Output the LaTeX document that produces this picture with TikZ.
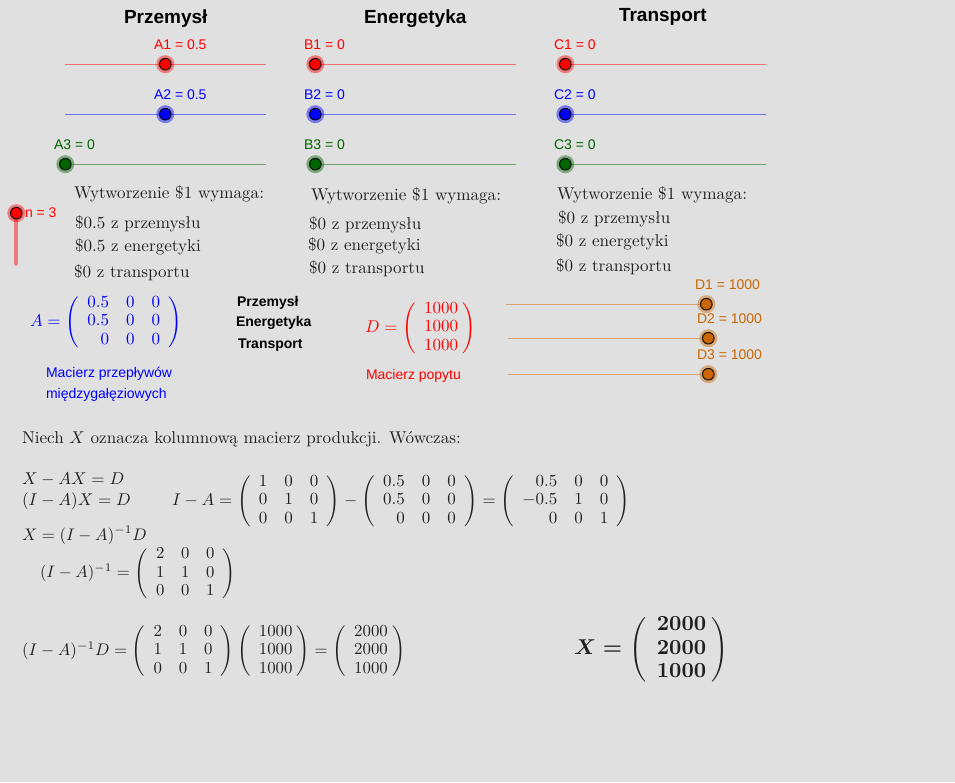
\documentclass[tikz,border=0pt]{standalone}
\usepackage[no-math]{fontspec}
\usepackage{amsmath}
\newfontfamily\lib{Liberation Sans}
\definecolor{bg}{HTML}{E0E0E0}
\definecolor{dgreen}{HTML}{006400}
\definecolor{orng}{HTML}{CC6600}
\definecolor{ink}{HTML}{202020}
\newcommand{\thumb}[2]{%
  \fill[#2,opacity=.45] #1 circle (9);
  \draw[black,fill=#2,line width=.9] #1 circle (5.8);}
\newcommand{\mstr}{.91}
\newcommand{\mat}[2]{\left(\renewcommand{\arraystretch}{\mstr}\begin{array}{#1}#2\end{array}\right)}
\newcommand{\cola}{r@{\hspace{2.5pt}}}
\tikzset{
  tx/.style={inner sep=0,outer sep=0,anchor=base west},
  ltx/.style={tx,scale=1.71,transform shape,text=ink},
  mtx/.style={inner sep=0,outer sep=0,anchor=west,scale=1.7,transform shape,text=ink},
  title/.style={tx,font=\lib\fontsize{19}{19}\selectfont\bfseries,text=black},
  small/.style={tx,font=\lib\fontsize{14}{14}\selectfont\bfseries,text=black},
  lab/.style={tx,font=\lib\fontsize{14}{14}\selectfont},
  rail/.style={line width=1},
}
\begin{document}
\begin{tikzpicture}[x=1pt,y=-1pt]
\useasboundingbox (0,0) rectangle (955,782);
\fill[bg] (0,0) rectangle (955,782);
% titles
\node[title] (t1) at (124,23) {Przemysł};
\node[title] (t2) at (364,23) {Energetyka};
\node[title] (t3) at (619,21) {Transport};
% sliders A
\draw[rail,red!50!bg] (65,64) -- (266,64);
\draw[rail,blue!50!bg] (65,114) -- (266,114);
\draw[rail,dgreen!50!bg] (65,164) -- (266,164);
\thumb{(165.3,64.2)}{red}
\thumb{(165.3,114.2)}{blue}
\thumb{(65.3,164.2)}{dgreen}
\node[lab,red] (a1) at (154,49) {A1 = 0.5};
\node[lab,blue] (a2) at (154,99) {A2 = 0.5};
\node[lab,dgreen] (a3) at (54,149) {A3 = 0};
% sliders B
\draw[rail,red!50!bg] (315,64) -- (516,64);
\draw[rail,blue!50!bg] (315,114) -- (516,114);
\draw[rail,dgreen!50!bg] (315,164) -- (516,164);
\thumb{(315.3,64.2)}{red}
\thumb{(315.3,114.2)}{blue}
\thumb{(315.3,164.2)}{dgreen}
\node[lab,red] (b1) at (304,49) {B1 = 0};
\node[lab,blue] (b2) at (304,99) {B2 = 0};
\node[lab,dgreen] (b3) at (304,149) {B3 = 0};
% sliders C
\draw[rail,red!50!bg] (565,64) -- (766,64);
\draw[rail,blue!50!bg] (565,114) -- (766,114);
\draw[rail,dgreen!50!bg] (565,164) -- (766,164);
\thumb{(565.3,64.2)}{red}
\thumb{(565.3,114.2)}{blue}
\thumb{(565.3,164.2)}{dgreen}
\node[lab,red] (c1) at (554,49) {C1 = 0};
\node[lab,blue] (c2) at (554,99) {C2 = 0};
\node[lab,dgreen] (c3) at (554,149) {C3 = 0};
% n slider
\draw[line width=4.5,red!45!bg,line cap=round] (16,213) -- (16,263.5);
\thumb{(16.3,213.2)}{red}
\node[lab,red] (n) at (25,217) {n = 3};
% D sliders
\draw[rail,orng!50!bg] (506,304) -- (706,304);
\draw[rail,orng!50!bg] (508,338) -- (708,338);
\draw[rail,orng!50!bg] (508,374) -- (708,374);
\thumb{(706.3,304.2)}{orng}
\thumb{(708.3,338.2)}{orng}
\thumb{(708.3,374.2)}{orng}
\node[lab,orng] (d1) at (695,289) {D1 = 1000};
\node[lab,orng] (d2) at (697,323) {D2 = 1000};
\node[lab,orng] (d3) at (697,359) {D3 = 1000};
% text columns
\node[ltx] (wa) at (74,198) {Wytworzenie \$1 wymaga:};
\node[ltx] (wa1) at (75,228) {\$0.5 z przemysłu};
\node[ltx] (wa2) at (75,251) {\$0.5 z energetyki};
\node[ltx] (wa3) at (74,277) {\$0 z transportu};
\node[ltx] (wb) at (311,200) {Wytworzenie \$1 wymaga:};
\node[ltx] (wb1) at (309,229) {\$0 z przemysłu};
\node[ltx] (wb2) at (308,250) {\$0 z energetyki};
\node[ltx] (wb3) at (309,273) {\$0 z transportu};
\node[ltx] (wc) at (557,199) {Wytworzenie \$1 wymaga:};
\node[ltx] (wc1) at (558,223) {\$0 z przemysłu};
\node[ltx] (wc2) at (556,246) {\$0 z energetyki};
\node[ltx] (wc3) at (556,271) {\$0 z transportu};
% A, D
\node[mtx,text=blue] (ma) at (30,322) {$A=\mat{rrr}{0.5&0&0\\0.5&0&0\\0&0&0}$};
\node[small] (s1) at (237,306) {Przemysł};
\node[small] (s2) at (236,326) {Energetyka};
\node[small] (s3) at (238,348) {Transport};
\node[mtx,text=red] (md) at (365,328) {$D=\mat{\cola}{1000\\1000\\1000}$};
\node[lab,blue] (l1) at (46,377) {Macierz przepływów};
\node[lab,blue] (l2) at (46,398) {międzygałęziowych};
\node[lab,red] (l3) at (366,379) {Macierz popytu};
% derivation
\node[ltx] (niech) at (22,443) {Niech $X$ oznacza kolumnową macierz produkcji. Wówczas:};
\node[ltx] (e1) at (22,484) {$X-AX=D$};
\node[ltx] (e2) at (22,505) {$(I-A)X=D$};
\node[mtx] (e3) at (172,501) {$I-A=\mat{rrr}{1&0&0\\0&1&0\\0&0&1}-\mat{rrr}{0.5&0&0\\0.5&0&0\\0&0&0}=\mat{rrr}{0.5&0&0\\-0.5&1&0\\0&0&1}$};
\node[ltx,scale=.98] (e4) at (22,540) {$X=(I-A)^{-1}D$};
\node[mtx,scale=.98] (e5) at (40,573.5) {$(I-A)^{-1}=\mat{rrr}{2&0&0\\1&1&0\\0&0&1}$};
\node[mtx,scale=.99] (e6) at (22,651) {$(I-A)^{-1}D=\mat{rrr}{2&0&0\\1&1&0\\0&0&1}\mat{\cola}{1000\\1000\\1000}=\mat{\cola}{2000\\2000\\1000}$};
\renewcommand{\mstr}{.92}
\node[inner sep=0,outer sep=0,anchor=west,scale=2.15,transform shape,text=ink,font=\boldmath] (res) at (574,649.5) {$X=\mat{\cola}{2000\\2000\\1000}$};
\end{tikzpicture}
\end{document}
